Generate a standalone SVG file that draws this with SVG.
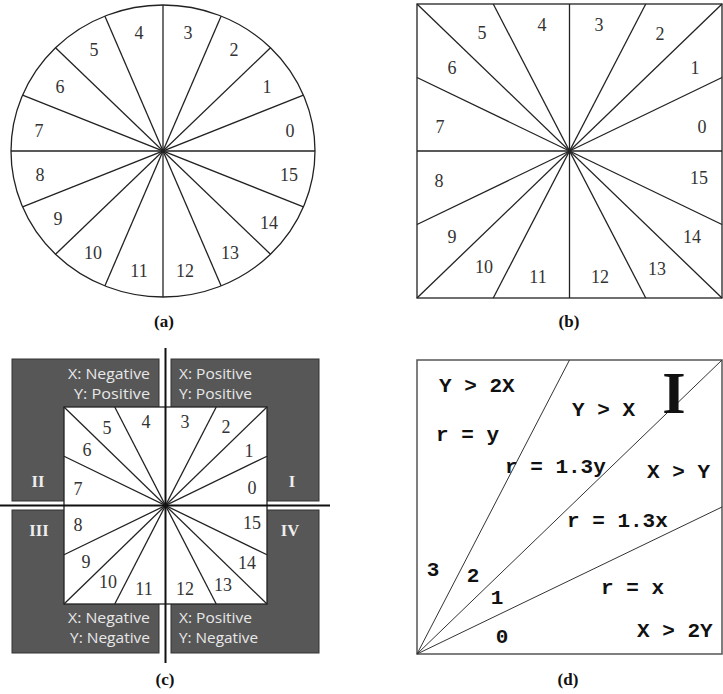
<svg xmlns="http://www.w3.org/2000/svg" width="723" height="694" viewBox="0 0 723 694">
<style>
.ln{stroke:#222;stroke-width:1.3;fill:none}
.ln2{stroke:#333;stroke-width:1;fill:none}
.num{font-family:"Liberation Serif",serif;font-size:18px;fill:#333;text-anchor:middle}
.cap{font-family:"Liberation Serif",serif;font-size:17px;font-weight:bold;fill:#111;text-anchor:middle}
.qt{font-family:"Open Sans","Noto Sans",sans-serif;font-size:14px;fill:#e8e8e8}
.rom{font-family:"Liberation Serif",serif;font-size:16.5px;font-weight:bold;fill:#eee;text-anchor:middle}
.box{fill:#575757;stroke:#333;stroke-width:1}
.mono{font-family:"Liberation Mono",monospace;font-size:21px;font-weight:bold;fill:#111}
</style>
<rect width="723" height="694" fill="#fff"/>

<g id="panel-a">
  <ellipse class="ln" cx="163" cy="151" rx="152" ry="146"/>
  <g id="a-lines">
    <line class="ln" x1="11" y1="151" x2="315" y2="151"/>
    <line class="ln" x1="163" y1="5" x2="163" y2="297"/>
    <line class="ln" x1="303.43" y1="95.13" x2="22.57" y2="206.87"/>
    <line class="ln" x1="270.48" y1="47.76" x2="55.52" y2="254.24"/>
    <line class="ln" x1="221.17" y1="16.11" x2="104.83" y2="285.89"/>
    <line class="ln" x1="104.83" y1="16.11" x2="221.17" y2="285.89"/>
    <line class="ln" x1="55.52" y1="47.76" x2="270.48" y2="254.24"/>
    <line class="ln" x1="22.57" y1="95.13" x2="303.43" y2="206.87"/>
  </g>
  <g id="a-labels">
    <text class="num" x="290" y="137">0</text>
    <text class="num" x="267" y="93">1</text>
    <text class="num" x="234" y="56">2</text>
    <text class="num" x="188" y="39">3</text>
    <text class="num" x="139" y="39">4</text>
    <text class="num" x="94" y="56">5</text>
    <text class="num" x="60" y="93">6</text>
    <text class="num" x="39" y="137">7</text>
    <text class="num" x="40" y="181">8</text>
    <text class="num" x="58" y="225">9</text>
    <text class="num" x="93" y="259">10</text>
    <text class="num" x="139" y="277">11</text>
    <text class="num" x="185" y="277">12</text>
    <text class="num" x="230" y="259">13</text>
    <text class="num" x="269" y="229">14</text>
    <text class="num" x="289" y="181">15</text>
  </g>
  <text class="cap" x="164" y="327">(a)</text>
</g>

<g id="panel-b">
  <rect class="ln" x="417" y="4" width="305" height="294"/>
  <g id="b-lines">
    <line class="ln" x1="417" y1="151" x2="722" y2="151"/>
    <line class="ln" x1="569.5" y1="4" x2="569.5" y2="298"/>
    <line class="ln" x1="417" y1="4" x2="722" y2="298"/>
    <line class="ln" x1="722" y1="4" x2="417" y2="298"/>
    <line class="ln" x1="722" y1="77.5" x2="417" y2="224.5"/>
    <line class="ln" x1="417" y1="77.5" x2="722" y2="224.5"/>
    <line class="ln" x1="645.75" y1="4" x2="493.25" y2="298"/>
    <line class="ln" x1="493.25" y1="4" x2="645.75" y2="298"/>
  </g>
  <g id="b-labels">
    <text class="num" x="702" y="133">0</text>
    <text class="num" x="695" y="74">1</text>
    <text class="num" x="660" y="40">2</text>
    <text class="num" x="599" y="31">3</text>
    <text class="num" x="542" y="31">4</text>
    <text class="num" x="482" y="39">5</text>
    <text class="num" x="452" y="74">6</text>
    <text class="num" x="440" y="133">7</text>
    <text class="num" x="439" y="187">8</text>
    <text class="num" x="452" y="243">9</text>
    <text class="num" x="484" y="273">10</text>
    <text class="num" x="538" y="283">11</text>
    <text class="num" x="600" y="283">12</text>
    <text class="num" x="657" y="275">13</text>
    <text class="num" x="692" y="243">14</text>
    <text class="num" x="699" y="184">15</text>
  </g>
  <text class="cap" x="569" y="327">(b)</text>
</g>

<g id="panel-c">
  <g id="quadrant-II">
    <rect class="box" x="12" y="359" width="147" height="142"/>
    <text class="qt" x="68" y="379" textLength="82" lengthAdjust="spacingAndGlyphs">X: Negative</text>
    <text class="qt" x="74" y="399" textLength="76" lengthAdjust="spacingAndGlyphs">Y: Positive</text>
    <text class="rom" x="38" y="486.5">II</text>
  </g>
  <g id="quadrant-I">
    <rect class="box" x="171" y="359" width="148" height="142"/>
    <text class="qt" x="179" y="379" textLength="73" lengthAdjust="spacingAndGlyphs">X: Positive</text>
    <text class="qt" x="179" y="399" textLength="73" lengthAdjust="spacingAndGlyphs">Y: Positive</text>
    <text class="rom" x="292" y="486.5">I</text>
  </g>
  <g id="quadrant-III">
    <rect class="box" x="12" y="510" width="147" height="143"/>
    <text class="qt" x="68" y="622.5" textLength="82" lengthAdjust="spacingAndGlyphs">X: Negative</text>
    <text class="qt" x="70" y="642.5" textLength="80" lengthAdjust="spacingAndGlyphs">Y: Negative</text>
    <text class="rom" x="39" y="536">III</text>
  </g>
  <g id="quadrant-IV">
    <rect class="box" x="171" y="510" width="148" height="143"/>
    <text class="qt" x="179" y="622.5" textLength="73" lengthAdjust="spacingAndGlyphs">X: Positive</text>
    <text class="qt" x="179" y="642.5" textLength="79" lengthAdjust="spacingAndGlyphs">Y: Negative</text>
    <text class="rom" x="290" y="536">IV</text>
  </g>
  <rect x="64" y="407" width="203" height="197" fill="#fff" stroke="#222" stroke-width="1.3"/>
  <g id="c-lines">
    <line class="ln" x1="64" y1="407" x2="267" y2="604"/>
    <line class="ln" x1="267" y1="407" x2="64" y2="604"/>
    <line class="ln" x1="267" y1="456.25" x2="64" y2="554.75"/>
    <line class="ln" x1="64" y1="456.25" x2="267" y2="554.75"/>
    <line class="ln" x1="216.25" y1="407" x2="114.75" y2="604"/>
    <line class="ln" x1="114.75" y1="407" x2="216.25" y2="604"/>
    <line stroke="#111" stroke-width="2" x1="0" y1="505.5" x2="330" y2="505.5"/>
    <line stroke="#111" stroke-width="2" x1="165.5" y1="348" x2="165.5" y2="663"/>
  </g>
  <g id="c-labels">
    <text class="num" x="252" y="494">0</text>
    <text class="num" x="249" y="457">1</text>
    <text class="num" x="226" y="433">2</text>
    <text class="num" x="185" y="428">3</text>
    <text class="num" x="146" y="428">4</text>
    <text class="num" x="107" y="434">5</text>
    <text class="num" x="87" y="456">6</text>
    <text class="num" x="78" y="495">7</text>
    <text class="num" x="78" y="531">8</text>
    <text class="num" x="86" y="568">9</text>
    <text class="num" x="108" y="588">10</text>
    <text class="num" x="144" y="595">11</text>
    <text class="num" x="185" y="595">12</text>
    <text class="num" x="223" y="591">13</text>
    <text class="num" x="247" y="569">14</text>
    <text class="num" x="252" y="529">15</text>
  </g>
  <text class="cap" x="165" y="685">(c)</text>
</g>

<g id="panel-d">
  <rect x="417" y="360" width="305" height="294" fill="none" stroke="#555" stroke-width="1.5"/>
  <g id="d-lines">
    <line class="ln2" x1="417" y1="654" x2="569.5" y2="360"/>
    <line class="ln2" x1="417" y1="654" x2="722" y2="360"/>
    <line class="ln2" x1="417" y1="654" x2="722" y2="507"/>
  </g>
  <text x="674" y="413" font-family="Liberation Serif,serif" font-weight="bold" font-size="60" fill="#111" text-anchor="middle">I</text>
  <g id="d-labels">
    <text class="mono" x="439" y="392">Y &gt; 2X</text>
    <text class="mono" x="572" y="416">Y &gt; X</text>
    <text class="mono" x="436" y="441">r = y</text>
    <text class="mono" x="505" y="473">r = 1.3y</text>
    <text class="mono" x="647" y="478">X &gt; Y</text>
    <text class="mono" x="567" y="527">r = 1.3x</text>
    <text class="mono" x="601" y="594">r = x</text>
    <text class="mono" x="637" y="637">X &gt; 2Y</text>
    <text class="mono" x="433" y="576" text-anchor="middle">3</text>
    <text class="mono" x="473" y="582" text-anchor="middle">2</text>
    <text class="mono" x="497" y="604" text-anchor="middle">1</text>
    <text class="mono" x="502" y="643" text-anchor="middle">0</text>
  </g>
  <text class="cap" x="568" y="685">(d)</text>
</g>
</svg>
